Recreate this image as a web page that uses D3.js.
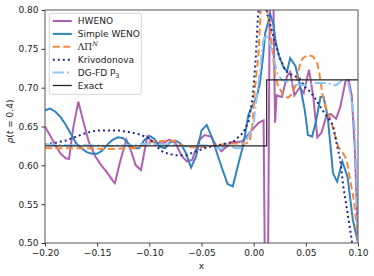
<!DOCTYPE html>
<html>
<head>
<meta charset="utf-8">
<script src="https://cdn.jsdelivr.net/npm/d3@7"></script>
<style>
  body { margin: 0; background: #fff; }
  text { font-family: "DejaVu Sans", sans-serif; fill: #222; }
</style>
</head>
<body>
<div id="chart"></div>
<script>
  /* data: [x, rho] */
  const hweno = [
    [-0.200, 0.650], [-0.195, 0.638], [-0.190, 0.626], [-0.185, 0.615], [-0.180, 0.609],
    [-0.177, 0.608], [-0.173, 0.648], [-0.168, 0.682], [-0.163, 0.655], [-0.158, 0.630],
    [-0.152, 0.612], [-0.146, 0.600], [-0.140, 0.590], [-0.135, 0.580], [-0.133, 0.577],
    [-0.128, 0.605], [-0.122, 0.633], [-0.118, 0.620], [-0.113, 0.600], [-0.108, 0.594],
    [-0.102, 0.637], [-0.097, 0.630], [-0.092, 0.629], [-0.087, 0.628], [-0.081, 0.633],
    [-0.075, 0.629], [-0.069, 0.612], [-0.064, 0.605], [-0.059, 0.607], [-0.052, 0.633],
    [-0.047, 0.639], [-0.041, 0.637], [-0.036, 0.626], [-0.031, 0.618], [-0.026, 0.624],
    [-0.021, 0.630], [-0.015, 0.630], [-0.011, 0.631], [-0.005, 0.640], [0.000, 0.648],
    [0.005, 0.655], [0.0095, 0.658], [0.0125, 0.200], [0.0165, 1.050], [0.0205, 0.655],
    [0.022, 0.690], [0.027, 0.688], [0.032, 0.715], [0.035, 0.720], [0.039, 0.690],
    [0.044, 0.700], [0.048, 0.693], [0.053, 0.723], [0.057, 0.690], [0.061, 0.636],
    [0.065, 0.642], [0.070, 0.665], [0.074, 0.666], [0.079, 0.660], [0.083, 0.675],
    [0.088, 0.708], [0.091, 0.710], [0.094, 0.690], [0.097, 0.620], [0.100, 0.500]
  ];

  const simpleWeno = [
    [-0.200, 0.671], [-0.195, 0.673], [-0.190, 0.669], [-0.185, 0.662], [-0.180, 0.652],
    [-0.175, 0.640], [-0.170, 0.628], [-0.165, 0.622], [-0.160, 0.617], [-0.155, 0.615],
    [-0.150, 0.615], [-0.145, 0.619], [-0.140, 0.627], [-0.135, 0.633], [-0.130, 0.636],
    [-0.125, 0.635], [-0.120, 0.628], [-0.115, 0.622], [-0.110, 0.622], [-0.105, 0.632],
    [-0.100, 0.638], [-0.095, 0.634], [-0.090, 0.624], [-0.085, 0.622], [-0.080, 0.630],
    [-0.075, 0.632], [-0.070, 0.628], [-0.065, 0.616], [-0.060, 0.597], [-0.055, 0.612],
    [-0.050, 0.645], [-0.045, 0.652], [-0.040, 0.636], [-0.035, 0.615], [-0.030, 0.595],
    [-0.025, 0.576], [-0.020, 0.573], [-0.015, 0.600], [-0.010, 0.626], [-0.005, 0.665],
    [0.000, 0.680], [0.003, 0.688], [0.006, 0.706], [0.009, 0.740], [0.011, 0.770],
    [0.016, 0.794], [0.019, 0.781], [0.021, 0.760], [0.024, 0.742], [0.029, 0.725],
    [0.032, 0.721], [0.035, 0.738], [0.038, 0.732], [0.040, 0.728], [0.044, 0.706],
    [0.049, 0.671], [0.052, 0.639], [0.056, 0.637], [0.060, 0.658], [0.064, 0.688],
    [0.067, 0.688], [0.071, 0.662], [0.074, 0.620], [0.076, 0.590], [0.080, 0.579],
    [0.085, 0.605], [0.090, 0.585], [0.095, 0.530], [0.100, 0.500]
  ];

  const lambdaPi = [
    [-0.200, 0.622], [-0.180, 0.622], [-0.160, 0.622], [-0.140, 0.621], [-0.120, 0.622],
    [-0.110, 0.623], [-0.105, 0.627], [-0.100, 0.630], [-0.090, 0.631], [-0.080, 0.632],
    [-0.075, 0.631], [-0.070, 0.627], [-0.065, 0.624], [-0.055, 0.623], [-0.045, 0.624],
    [-0.035, 0.626], [-0.025, 0.628], [-0.015, 0.628], [-0.008, 0.628], [-0.004, 0.630],
    [-0.001, 0.654], [0.001, 0.697], [0.0045, 0.740], [0.009, 0.860], [0.0125, 0.800],
    [0.016, 0.777], [0.018, 0.747], [0.020, 0.721], [0.023, 0.704], [0.028, 0.691],
    [0.033, 0.687], [0.036, 0.691], [0.040, 0.702], [0.044, 0.728], [0.047, 0.738],
    [0.052, 0.742], [0.057, 0.740], [0.061, 0.731], [0.063, 0.718], [0.066, 0.691],
    [0.069, 0.675], [0.073, 0.662], [0.076, 0.648], [0.081, 0.624], [0.086, 0.615],
    [0.089, 0.607], [0.092, 0.585], [0.096, 0.555], [0.099, 0.517], [0.100, 0.500]
  ];

  const krivodonova = [
    [-0.200, 0.627], [-0.190, 0.629], [-0.180, 0.632], [-0.170, 0.637], [-0.160, 0.642],
    [-0.150, 0.645], [-0.140, 0.645], [-0.130, 0.645], [-0.120, 0.643], [-0.110, 0.640],
    [-0.100, 0.635], [-0.095, 0.628], [-0.090, 0.620], [-0.085, 0.616], [-0.075, 0.613],
    [-0.065, 0.613], [-0.055, 0.618], [-0.045, 0.623], [-0.030, 0.627], [-0.020, 0.630],
    [-0.010, 0.642], [-0.005, 0.656], [-0.001, 0.687], [0.002, 0.738], [0.004, 0.790],
    [0.008, 0.840], [0.013, 0.795], [0.016, 0.781], [0.020, 0.760], [0.025, 0.738],
    [0.031, 0.721], [0.036, 0.717], [0.044, 0.712], [0.049, 0.701], [0.054, 0.695],
    [0.059, 0.686], [0.064, 0.675], [0.068, 0.667], [0.073, 0.658], [0.076, 0.652],
    [0.0795, 0.628], [0.083, 0.607], [0.086, 0.572], [0.089, 0.547], [0.092, 0.521],
    [0.094, 0.504], [0.096, 0.470], [0.100, 0.450]
  ];

  const dgfd = [
    [-0.200, 0.627], [-0.180, 0.626], [-0.160, 0.626], [-0.140, 0.625], [-0.120, 0.626],
    [-0.100, 0.628], [-0.090, 0.627], [-0.080, 0.627], [-0.070, 0.625], [-0.060, 0.624],
    [-0.050, 0.626], [-0.040, 0.625], [-0.032, 0.621], [-0.028, 0.625], [-0.024, 0.627],
    [-0.018, 0.622], [-0.013, 0.622], [-0.008, 0.630], [-0.004, 0.640], [0.000, 0.655],
    [0.003, 0.690], [0.006, 0.721], [0.009, 0.760], [0.012, 0.768], [0.016, 0.755],
    [0.020, 0.734], [0.023, 0.717], [0.027, 0.710], [0.032, 0.708], [0.040, 0.704],
    [0.049, 0.703], [0.059, 0.706], [0.070, 0.706], [0.079, 0.703], [0.085, 0.710],
    [0.090, 0.710], [0.095, 0.675], [0.097, 0.645], [0.099, 0.570], [0.100, 0.500]
  ];

  const exact = [[-0.2, 0.625], [0.0125, 0.625], [0.0125, 0.71], [0.1, 0.71]];

  const xTicks = [-0.20, -0.15, -0.10, -0.05, 0.00, 0.05, 0.10];
  const yTicks = [0.50, 0.55, 0.60, 0.65, 0.70, 0.75, 0.80];

  const margin = { top: 10, right: 16, bottom: 33, left: 45 };
  const width = 374 - margin.left - margin.right;
  const height = 276 - margin.top - margin.bottom;

  const xScale = d3.scaleLinear().domain([-0.2, 0.1]).range([0, width]);
  const yScale = d3.scaleLinear().domain([0.5, 0.8]).range([height, 0]);

  const svg = d3.select('#chart')
    .append('svg')
    .attr('width', 374)
    .attr('height', 276)
    .append('g')
    .attr('transform', `translate(${margin.left},${margin.top})`);

  svg.append('clipPath').attr('id', 'clip')
    .append('rect').attr('width', width).attr('height', height);

  const fmt = d => d3.format('.2f')(d).replace('-', '\u2212');

  const series = [
    { name: 'HWENO', data: hweno, color: '#b05fb3', dash: null, w: 2 },
    { name: 'Simple WENO', data: simpleWeno, color: '#3383be', dash: null, w: 2 },
    { name: 'lambdaPi', data: lambdaPi, color: '#f5883a', dash: '7,3.5', w: 2 },
    { name: 'Krivodonova', data: krivodonova, color: '#1f2a8a', dash: '2,3', w: 2 },
    { name: 'DG-FD', data: dgfd, color: '#8dc6f5', dash: '11,3,2,3', w: 2 },
    { name: 'Exact', data: exact, color: '#222', dash: null, w: 1.2 }
  ];

  const line = d3.line().x(d => xScale(d[0])).y(d => yScale(d[1]));

  const plot = svg.append('g').attr('clip-path', 'url(#clip)');
  series.forEach(s => {
    plot.append('path')
      .datum(s.data)
      .attr('d', line)
      .attr('fill', 'none')
      .attr('stroke', s.color)
      .attr('stroke-width', s.w)
      .attr('stroke-dasharray', s.dash);
  });

  /* Axes */
  const xAxis = d3.axisBottom(xScale).tickValues(xTicks).tickFormat(fmt).tickSize(3.5).tickPadding(3);
  const yAxis = d3.axisLeft(yScale).tickValues(yTicks).tickFormat(fmt).tickSize(3.5).tickPadding(3);

  svg.append('g').attr('transform', `translate(0,${height})`).call(xAxis);
  svg.append('g').call(yAxis);
  svg.selectAll('.tick text').attr('font-size', 9).attr('font-family', '"DejaVu Sans", sans-serif');
  svg.selectAll('.domain').remove();
  svg.selectAll('.tick line').attr('stroke', '#333');

  svg.append('rect')
    .attr('width', width).attr('height', height)
    .attr('fill', 'none').attr('stroke', '#555').attr('stroke-width', 1);

  svg.append('text')
    .attr('x', width / 2).attr('y', height + 26)
    .attr('text-anchor', 'middle').attr('font-size', 9)
    .text('x');

  const yl = svg.append('text')
    .attr('transform', `translate(${-32},${height / 2 - 5}) rotate(-90)`)
    .attr('text-anchor', 'middle').attr('font-size', 9);
  yl.append('tspan').attr('font-style', 'italic').text('\u03c1');
  yl.append('tspan').text('(');
  yl.append('tspan').attr('font-style', 'italic').text('t');
  yl.append('tspan').text(' = 0.4)');

  /* Legend */
  const legend = svg.append('g').attr('transform', 'translate(4.3,3.3)');
  legend.append('rect')
    .attr('width', 92).attr('height', 81).attr('rx', 2)
    .attr('fill', '#fff').attr('fill-opacity', 0.85)
    .attr('stroke', '#ccc').attr('stroke-width', 0.8);

  series.forEach((s, i) => {
    const gy = 7.7 + i * 12.9;
    legend.append('line')
      .attr('x1', 3.5).attr('x2', 22.5).attr('y1', gy).attr('y2', gy)
      .attr('stroke', s.color).attr('stroke-width', s.w === 2 ? 2 : 1.3)
      .attr('stroke-dasharray', s.dash);
    const t = legend.append('text')
      .attr('x', 28.5).attr('y', gy + 3.2).attr('font-size', 9);
    if (s.name === 'lambdaPi') {
      t.append('tspan').attr('font-family', '"DejaVu Serif", serif').text('\u039b\u03a0');
      t.append('tspan').attr('font-family', '"DejaVu Serif", serif').attr('font-style', 'italic')
        .attr('font-size', 6.5).attr('dy', -3.5).text('N');
    } else if (s.name === 'DG-FD') {
      t.append('tspan').text('DG-FD P');
      t.append('tspan').attr('font-size', 6.5).attr('dy', 2).text('3');
    } else {
      t.text(s.name);
    }
  });
</script>
</body>
</html>
